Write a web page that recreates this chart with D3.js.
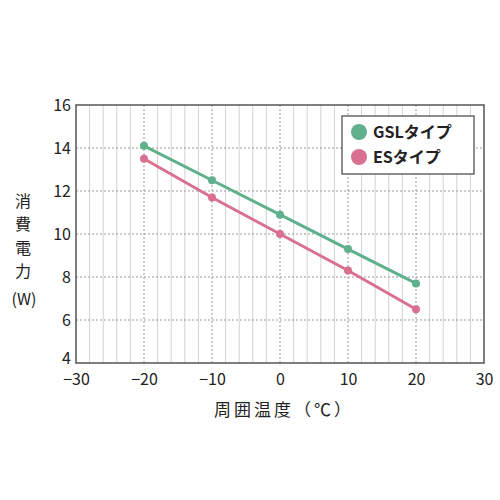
<!DOCTYPE html>
<html>
<head>
<meta charset="utf-8">
<script src="https://cdn.jsdelivr.net/npm/d3@7"></script>
<style>
  body { margin: 0; background: #fff; }
  text { font-family: "Noto Sans CJK JP", "Liberation Sans", sans-serif; fill: #222; }
</style>
</head>
<body>
<svg id="chart" width="500" height="500"></svg>
<script>
// data
const temps = [-20, -10, 0, 10, 20];
const gslValues = [14.1, 12.5, 10.9, 9.3, 7.7];
const esValues = [13.5, 11.7, 10.0, 8.3, 6.5];
const seriesNames = ['GSLタイプ', 'ESタイプ'];
const xTicks = [-30, -20, -10, 0, 10, 20, 30];
const yTicks = [4, 6, 8, 10, 12, 14, 16];

const colors = ['#5fb08c', '#d9708f'];
const margin = { left: 76, right: 16, top: 105, bottom: 137 };
const width = 500, height = 500;

const svg = d3.select('#chart');

const x = d3.scaleLinear().domain([-30, 30]).range([margin.left, width - margin.right]);
const y = d3.scaleLinear().domain([4, 16]).range([height - margin.bottom, margin.top]);

// minor vertical grid every 2 degrees
const grid = svg.append('g');
grid.selectAll('.vminor')
    .data(d3.range(-28, 30, 2).filter(d => d % 10 !== 0))
    .join('line')
    .attr('x1', d => x(d)).attr('x2', d => x(d))
    .attr('y1', y(16)).attr('y2', y(4))
    .attr('stroke', '#d2d2d2')
    .attr('stroke-width', 1);

// major vertical grid (dotted)
grid.selectAll('.vmajor')
    .data(xTicks.slice(1, -1))
    .join('line')
    .attr('x1', d => x(d)).attr('x2', d => x(d))
    .attr('y1', y(16)).attr('y2', y(4))
    .attr('stroke', '#999')
    .attr('stroke-width', 1)
    .attr('stroke-dasharray', '2,2');

// horizontal grid (dotted)
grid.selectAll('.hmajor')
    .data(yTicks.slice(1, -1))
    .join('line')
    .attr('x1', x(-30)).attr('x2', x(30))
    .attr('y1', d => y(d)).attr('y2', d => y(d))
    .attr('stroke', '#999')
    .attr('stroke-width', 1)
    .attr('stroke-dasharray', '2,2');

// frame
svg.append('rect')
    .attr('x', x(-30)).attr('y', y(16))
    .attr('width', x(30) - x(-30)).attr('height', y(4) - y(16))
    .attr('fill', 'none')
    .attr('stroke', '#555')
    .attr('stroke-width', 1.5);

// axes (labels only)
const xAxis = svg.append('g')
    .attr('transform', `translate(0, ${y(4)})`)
    .call(d3.axisBottom(x).tickValues(xTicks).tickSize(0).tickPadding(11)
        .tickFormat(d => d < 0 ? '−' + Math.abs(d) : d));
xAxis.select('.domain').remove();
xAxis.selectAll('text').attr('font-size', 16).attr('font-family', '"Liberation Sans", sans-serif').attr('fill', '#222');

const yAxis = svg.append('g')
    .attr('transform', `translate(${x(-30) - 5}, 0)`)
    .call(d3.axisLeft(y).tickValues(yTicks).tickSize(0).tickPadding(0));
yAxis.select('.domain').remove();
yAxis.selectAll('text').attr('font-size', 16).attr('font-family', '"Liberation Sans", sans-serif').attr('fill', '#222');
// bottom label sits a little above the frame corner
yAxis.selectAll('.tick').filter(d => d === 4).select('text').attr('dy', '0.0em');

// lines
const series = [gslValues, esValues];
const line = d3.line().x((d, i) => x(temps[i])).y(d => y(d));
series.forEach((vals, si) => {
    svg.append('path')
        .datum(vals)
        .attr('d', line)
        .attr('fill', 'none')
        .attr('stroke', colors[si])
        .attr('stroke-width', 3);
    svg.append('g').selectAll('circle')
        .data(vals)
        .join('circle')
        .attr('cx', (d, i) => x(temps[i]))
        .attr('cy', d => y(d))
        .attr('r', 4)
        .attr('fill', colors[si]);
});

// legend
const lg = svg.append('g');
lg.append('rect')
    .attr('x', 342).attr('y', 116)
    .attr('width', 132).attr('height', 58)
    .attr('fill', '#fff')
    .attr('stroke', '#444')
    .attr('stroke-width', 1.2);
seriesNames.forEach((name, i) => {
    lg.append('circle')
        .attr('cx', 359).attr('cy', 132 + i * 25)
        .attr('r', 8)
        .attr('fill', colors[i]);
    lg.append('text')
        .attr('x', 373).attr('y', 132 + i * 25)
        .attr('dy', '0.36em')
        .attr('font-size', 16)
        .attr('font-weight', 'bold')
        .text(name);
});

// axis titles
svg.append('text')
    .attr('x', 284).attr('y', 410)
    .attr('dy', '0.36em')
    .attr('text-anchor', 'middle')
    .attr('font-size', 17)
    .attr('letter-spacing', 3)
    .text('周囲温度（℃）');

const yTitle = ['消', '費', '電', '力'];
svg.append('g').selectAll('text')
    .data(yTitle)
    .join('text')
    .attr('x', 23)
    .attr('y', (d, i) => 201 + i * 23.5)
    .attr('dy', '0.36em')
    .attr('text-anchor', 'middle')
    .attr('font-size', 16)
    .text(d => d);
svg.append('text')
    .attr('x', 24).attr('y', 299)
    .attr('dy', '0.36em')
    .attr('text-anchor', 'middle')
    .attr('font-size', 16)
    .text('(W)');
</script>
</body>
</html>
